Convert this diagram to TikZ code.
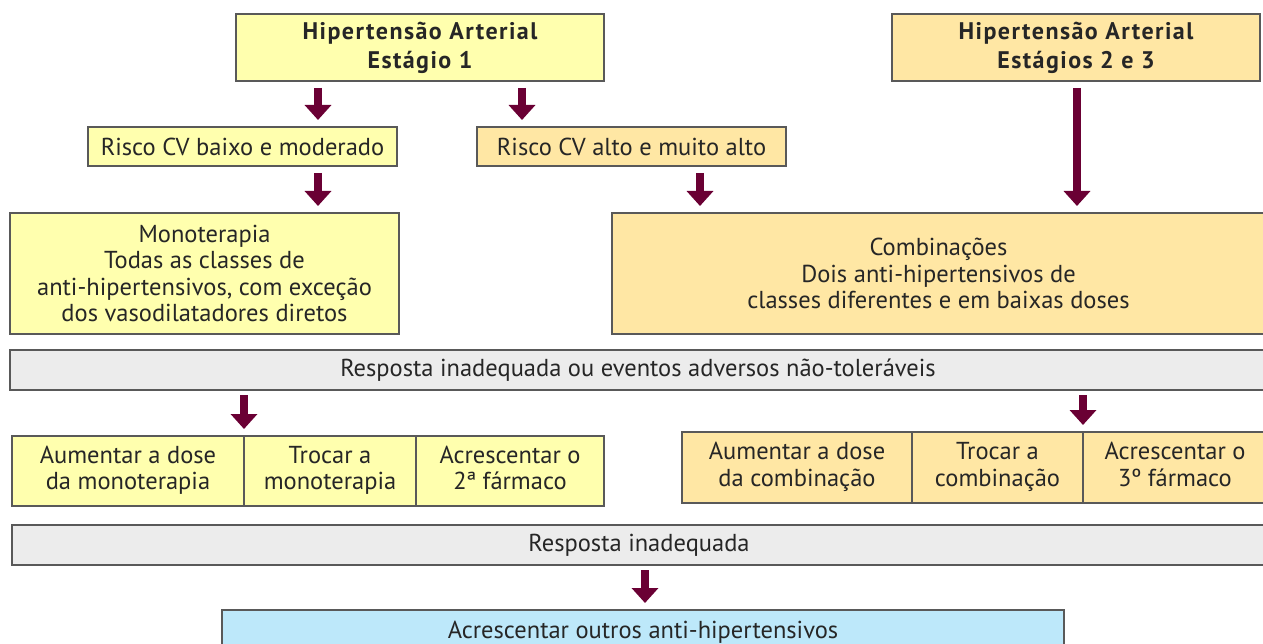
\documentclass[tikz,border=0pt]{standalone}
\usepackage{fontspec}
\setmainfont{PT Sans}
\newfontfamily\titulo[LetterSpace=6]{PT Sans}
\usetikzlibrary{arrows.meta, positioning}
\definecolor{amarelo}{HTML}{FFFFAE}
\definecolor{bege}{HTML}{FFE7A4}
\definecolor{cinza}{HTML}{ECECEC}
\definecolor{azul}{HTML}{BDE8FA}
\definecolor{vinho}{HTML}{6A0034}
\definecolor{borda}{HTML}{595959}
\tikzset{
	caixa/.style={draw=borda, line width=1.5pt, align=center, inner sep=2pt, outer sep=0pt,
		text=black!85, font=\fontsize{24.5}{26.5}\selectfont, anchor=north west},
	titulocaixa/.style={caixa, minimum width=368pt, minimum height=67pt,
		font=\fontsize{24}{29}\selectfont\titulo\bfseries},
	celula/.style={caixa, text depth=6pt},
	seta/.style={draw=vinho, line width=8pt, -{Triangle[length=15pt,width=26pt]},
		shorten <=7pt, shorten >=7pt}
}
\begin{document}
\begin{tikzpicture}[x=1pt, y=-1pt]
		\useasboundingbox (0,0) rectangle (1263,644);

		% estagios
		\node[titulocaixa, fill=amarelo] (h1) at (236,14) {Hipertensão Arterial\\Estágio 1};
		\node[titulocaixa, fill=bege] (h23) at (892,14) {Hipertensão Arterial\\Estágios 2 e 3};

		% risco
		\node[caixa, fill=amarelo, minimum width=309pt, minimum height=39pt] (rb) at (88,127) {Risco CV baixo e moderado};
		\node[caixa, fill=bege, minimum width=309pt, minimum height=39pt] (ra) at (477,127) {Risco CV alto e muito alto};

		% tratamento inicial
		\node[caixa, fill=amarelo, minimum width=389pt, minimum height=121pt] (mono) at (10,213) {Monoterapia\\Todas as classes de\\anti-hipertensivos, com exceção\\dos vasodilatadores diretos};
		\node[caixa, fill=bege, minimum width=653pt, minimum height=121pt] (comb) at (612,213) {Combinações\\Dois anti-hipertensivos de\\classes diferentes e em baixas doses};

		\node[caixa, fill=cinza, minimum width=1256pt, minimum height=40pt] (resp1) at (10,350) {Resposta inadequada ou eventos adversos não-toleráveis};

		% opcoes monoterapia
		\node[celula, fill=amarelo, minimum width=232pt, minimum height=70pt] (m1) at (12,436) {Aumentar a dose\\da monoterapia};
		\node[celula, fill=amarelo, minimum width=172pt, minimum height=70pt, right=0pt of m1] (m2) {Trocar a\\monoterapia};
		\node[celula, fill=amarelo, minimum width=188pt, minimum height=70pt, right=0pt of m2] (m3) {Acrescentar o\\2ª fármaco};

		% opcoes combinacao
		\node[celula, fill=bege, minimum width=230pt, minimum height=71pt] (c1) at (682,432) {Aumentar a dose\\da combinação};
		\node[celula, fill=bege, minimum width=171pt, minimum height=71pt, right=0pt of c1] (c2) {Trocar a\\combinação};
		\node[celula, fill=bege, minimum width=184pt, minimum height=71pt, right=0pt of c2] (c3) {Acrescentar o\\3º fármaco};

		\node[caixa, fill=cinza, minimum width=1254pt, minimum height=40pt] (resp2) at (12,525) {Resposta inadequada};
		\node[caixa, fill=azul, minimum width=842pt, minimum height=44pt] (outros) at (222,610) {Acrescentar outros anti-hipertensivos};

		% colunas das setas
		\coordinate (s1) at (318,0);
		\coordinate (s2) at (522,0);
		\coordinate (s3) at (700,0);
		\coordinate (s4) at (1077,0);
		\coordinate (s5) at (244,0);
		\coordinate (s6) at (1083,0);
		\coordinate (s7) at (645,0);

		\draw[seta] (h1.south -| s1) -- (rb.north -| s1);
		\draw[seta] (h1.south -| s2) -- (ra.north -| s2);
		\draw[seta] (rb.south -| s1) -- (mono.north -| s1);
		\draw[seta] (ra.south -| s3) -- (comb.north -| s3);
		\draw[seta] (h23.south -| s4) -- (comb.north -| s4);
		\draw[seta, shorten <=5pt] (resp1.south -| s5) -- (m2.north west);
		\draw[seta, shorten <=5pt] (resp1.south -| s6) -- (c3.north west);
		\draw[seta, shorten <=5pt] (resp2.south -| s7) -- (outros.north -| s7);
	\end{tikzpicture}
\end{document}
